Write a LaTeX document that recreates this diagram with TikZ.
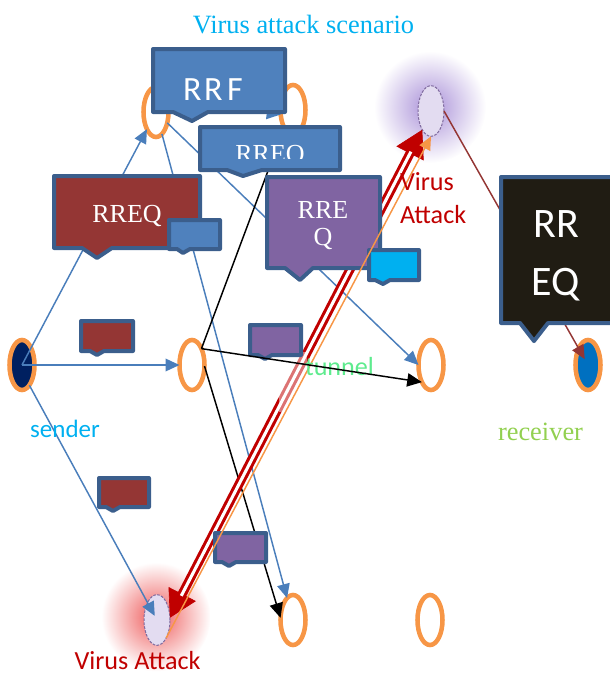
\documentclass[tikz,border=0pt]{standalone}
\usepackage{fontspec}
\setmainfont{Liberation Serif}
\newfontfamily\carlito{Carlito}
\usetikzlibrary{shapes.geometric,arrows.meta}
\definecolor{accblue}{HTML}{4F81BD}
\definecolor{bordblue}{HTML}{3B5E8C}
\definecolor{boxred}{HTML}{943634}
\definecolor{boxpurple}{HTML}{8064A2}
\definecolor{boxcyan}{HTML}{00B0F0}
\definecolor{boxblack}{HTML}{201C13}
\definecolor{ringorange}{HTML}{F79646}
\definecolor{navyfill}{HTML}{002060}
\definecolor{recblue}{HTML}{0070C0}
\definecolor{attackred}{HTML}{C00000}
\definecolor{lineblue}{HTML}{4A7EBB}
\definecolor{recgreen}{HTML}{92D050}
\definecolor{tunnelgreen}{HTML}{5EEB8E}
\definecolor{virfill}{HTML}{E3DCF1}
\definecolor{virline}{HTML}{7F6A9E}
\definecolor{glowpurple}{HTML}{A990D8}
\definecolor{glowred}{HTML}{EE5A5A}
% callout: style, left, top, right, bottom, notch-left, notch-right, tip x, tip y
\newcommand{\callout}[9]{\path[#1] (#2,#3) -- (#4,#3) -- (#4,#5) -- (#7,#5) -- (#8,#9) -- (#6,#5) -- (#2,#5) -- cycle;}
\tikzset{
  ring/.style={ellipse, draw=ringorange, line width=3.4pt, minimum width=18.75pt, minimum height=37.5pt, inner sep=0pt, outer sep=0pt},
  virus/.style={ellipse, draw=virline, fill=virfill, line width=0.75pt, dash pattern=on 2pt off 1pt, minimum width=19.5pt, minimum height=38pt, inner sep=0pt, outer sep=0pt},
  cbox/.style={line width=3pt, draw=bordblue, line join=round},
  bluearrow/.style={draw=lineblue, line width=1.1pt, -{Triangle[length=10.5pt,width=9.5pt]}},
  blackline/.style={draw=black, line width=1.1pt},
  blackarrow/.style={draw=black, line width=1.1pt, -{Triangle[length=11pt,width=10pt]}},
  darkredarrow/.style={draw=boxred, line width=1.1pt, -{Triangle[length=10.5pt,width=9.5pt]}},
  orangearrow/.style={draw=ringorange, line width=1.1pt, -{Triangle[length=10pt,width=9pt]}},
  attackshaft/.style={draw=attackred, line width=2.3pt, double=white, double distance=2.3pt, shorten <=18.5pt, shorten >=18.5pt},
  attacktips/.style={draw=attackred, line width=0.5pt, {Triangle[length=20pt,width=23pt]}-{Triangle[length=20pt,width=23pt]}},
  txt/.style={inner sep=0pt, outer sep=0pt},
  serifbox/.style={txt, text=white, anchor=base, font=\fontsize{19.5}{23}\selectfont},
  sansbig/.style={txt, text=white, anchor=base, font=\carlito\fontsize{31.5}{38}\selectfont},
  sanslbl/.style={txt, font=\carlito\fontsize{19.6}{23}\selectfont}
}
\begin{document}
\begin{tikzpicture}[x=0.75pt,y=-0.75pt]
\useasboundingbox (0,0) rectangle (610,675);
\clip (0,0) rectangle (610,675);

% glows
\shade[inner color=glowpurple, outer color=white] (430,107) circle (42pt);
\shade[inner color=glowred, outer color=white] (156,617) circle (41pt);

% nodes
\node[ring] (n1) at (156,112) {};
\node[ring] (n2) at (293,110) {};
\node[ring, fill=navyfill] (sender) at (22,365) {};
\node[ring] (n3) at (192,365) {};
\node[ring] (n4) at (431,365) {};
\node[ring, fill=recblue] (receiver) at (588,365) {};
\node[ring] (n5) at (293,620) {};
\node[ring] (n6) at (430,620) {};
\node[virus] (virT) at (431,111) {};
\node[virus] (virB) at (157,620) {};

% connectors under the callouts
\draw[bluearrow] (sender.center) -- (n1);
\draw[bluearrow] (sender.center) -- (n3);
\draw[bluearrow, shorten >=3.5pt] (sender.-70) -- (virB.center);
\draw[bluearrow] (n1) -- (n5);
\draw[bluearrow] (n1) -- (n4.west);
\draw[bluearrow] (n1.45) -- (n2.-160);
\draw[blackline] (n2.south west) -- (n3.60);
\draw[blackarrow] (n3.-5) -- (n5.170);
\draw[darkredarrow, shorten >=5pt] (virT.east) -- (receiver.center);

% virus attack double arrow
\draw[attacktips] (virB.10) -- (virT.-115);
\draw[attackshaft] (virB.10) -- (virT.-115);
\fill[white, fill opacity=0.45] (279,352) rectangle (307,412);

% callouts
\callout{cbox, fill=accblue}{153}{49}{285}{112}{173}{208}{192}{121}
\node[txt, text=white, anchor=base west, font=\carlito\fontsize{25.5}{30}\selectfont] (rrf) at (183,100) {R\kern2pt R\kern3.5pt F};

\callout{cbox, fill=accblue}{200}{127}{340}{170}{227}{262}{243}{176}
\begin{scope}
\clip (200,127) rectangle (340,158);
\node[serifbox] (rreqA) at (270,162) {RREQ};
\end{scope}

\callout{cbox, fill=boxred}{54}{176}{200}{248}{82}{112}{97}{258}
\node[serifbox] (rreqB) at (127,222) {RREQ};
\callout{cbox, fill=accblue}{169}{220}{220}{249}{177}{190}{183}{253}

\callout{cbox, fill=boxpurple}{267}{177}{380}{268}{285}{313}{300}{280}
\node[serifbox] (rreqC1) at (323,218) {RRE};
\node[serifbox] (rreqC2) at (323,245) {Q};
\callout{cbox, fill=boxcyan}{369}{250}{419}{280}{375}{390}{383}{284}

\callout{cbox, fill=boxblack}{501}{177}{625}{323}{520}{548}{534}{341}
\node[sansbig] (rreqD1) at (556,237) {RR};
\node[sansbig] (rreqD2) at (556,295) {EQ};

\callout{cbox, fill=boxred}{81}{321}{133}{351}{90}{104}{97}{355}
\callout{cbox, fill=boxpurple}{250}{325}{301}{355}{258}{272}{265}{359}
\callout{cbox, fill=boxred}{99}{478}{149}{507}{106}{120}{113}{511}
\callout{cbox, fill=boxpurple}{215}{533}{266}{562}{222}{236}{229}{566}

% connectors over the callouts
\draw[orangearrow] (virB.-63) -- (virT.south);
\node[sanslbl, text=tunnelgreen, anchor=base west] (tun) at (305,375) {tunnel};
\draw[blackarrow] (n3.60) -- (n4.-118);

% labels
\node[txt, text=boxcyan, anchor=base, font=\fontsize{19.8}{24}\selectfont] (title) at (303.5,33) {Virus attack scenario};
\node[txt, text=boxcyan, anchor=base, font=\carlito\fontsize{18.75}{22}\selectfont] (sendlbl) at (65,437.5) {sender};
\node[txt, text=recgreen, anchor=base, font=\fontsize{19.8}{24}\selectfont] (reclbl) at (540.5,440) {receiver};
\node[sanslbl, text=attackred, anchor=base] (vaB) at (137.5,669) {Virus Attack};
\node[sanslbl, text=attackred, anchor=base west] (vaT1) at (400,190) {Virus};
\node[sanslbl, text=attackred, anchor=base west] (vaT2) at (400,223) {Attack};
\end{tikzpicture}
\end{document}
